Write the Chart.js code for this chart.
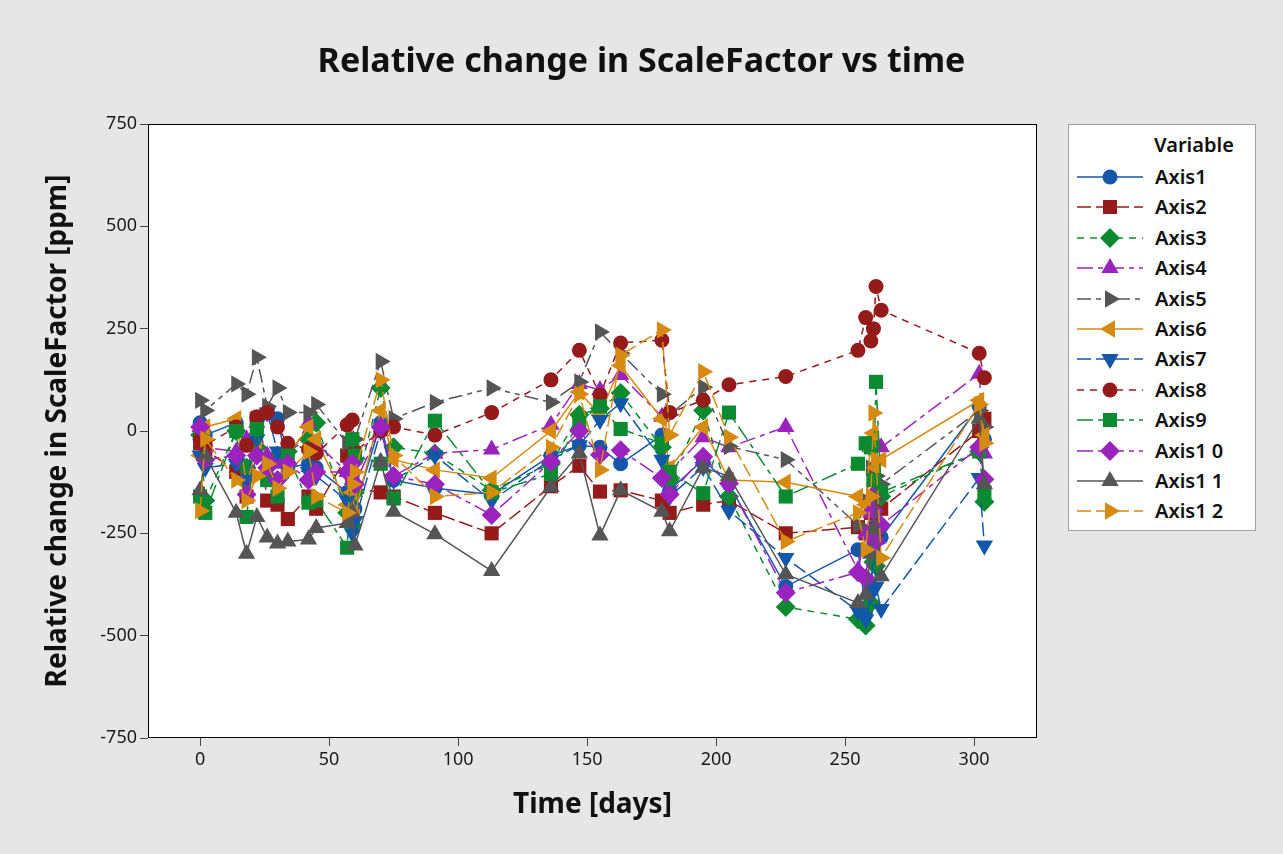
<!DOCTYPE html>
<html>
<head>
<meta charset="utf-8">
<script src="https://cdn.jsdelivr.net/npm/chart.js@4.4.1/dist/chart.umd.min.js"></script>
<style>
  html, body { margin: 0; padding: 0; background: #e6e6e6; }
  #wrap { position: relative; width: 1283px; height: 854px; overflow: hidden; }
  #chart { position: absolute; left: 0; top: 0; }
  #legend {
    position: absolute; left: 1068px; top: 124px; width: 186px; height: 405px;
    background: #fff; border: 1px solid #a0a0a0;
    font-family: 'Noto Sans', sans-serif; color: #111;
  }
  #legend .head { position: absolute; left: 85px; top: 6px; font-size: 20px; font-weight: 600; }
  #legend .row { position: absolute; left: 0; width: 186px; height: 30px; }
  #legend .row svg { position: absolute; left: 0; top: 0; }
  #legend .row span { position: absolute; left: 86px; top: 0px; line-height: 30px; font-size: 20px; font-weight: 600; }
</style>
</head>
<body>
<div id="wrap">
  <canvas id="chart" width="1283" height="854"></canvas>
  <div id="legend"><div class="head">Variable</div></div>
</div>
<script>
// time in days, shared by every series
const days = [0, 2, 14, 18, 22, 26, 30, 34, 42, 45, 57, 59, 60, 70, 75, 91, 113, 136, 147, 155,
  163, 179, 182, 195, 205, 227, 255, 258, 260, 261, 262, 264, 302, 304];

// relative change in ppm
const axis1 = [20, -10, 20, -110, 30, 45, 30, -90, -80, -90, -150, -160, -190, 20, -120, -140, -155, -60, -35, -40,
  -80, -10, -145, -70, -130, -380, -290, -440, -380, -300, -230, -260, 60, -20];
const axis2 = [-30, -45, -100, -160, 30, -170, -180, -215, -160, -190, -60, -110, -140, -150, -160, -200, -250, -135, -85, -148,
  -145, -170, -200, -180, -170, -250, -235, -250, -200, -180, -240, -190, 0, 30];
const axis3 = [-10, -170, 0, -90, -40, -110, -60, -50, -20, 20, -200, -230, -150, 105, -40, -55, -145, -80, 40, 55,
  93, -40, -120, 50, -160, -430, -460, -475, -420, -320, -330, -160, -50, -173];
const axis4 = [10, -40, -50, -20, 20, -60, -80, -70, 20, -30, -100, -120, -60, 0, -110, -55, -45, 15, 115, 100,
  137, 35, -100, -15, -40, 10, -340, -250, -200, -150, -30, -40, 140, -55];
const axis5 = [75, 50, 115, 90, 180, 60, 105, 45, 45, 65, -30, -100, -20, 170, 30, 70, 105, 70, 120, 242,
  190, 90, 40, 107, -38, -70, -230, -170, -90, -40, -110, -130, 50, 10];
const axis6 = [-60, 10, 30, -130, -40, -100, -120, -60, 10, -20, -180, -150, -200, 50, -70, -95, -115, 0, 95, 40,
  160, 30, -90, 10, -120, -125, -160, -180, -20, -5, -90, -70, 75, -10];
const axis7 = [-60, -90, -80, -120, -20, 45, -50, -95, -100, -110, -170, -250, -220, 0, -120, -60, -170, -70, -35, 27,
  68, -70, -160, -88, -195, -310, -440, -460, -400, -280, -380, -435, -115, -280];
const axis8 = [-20, -35, 10, -35, 35, 45, 10, -30, -45, -55, 15, 27, -50, 0, 10, -10, 45, 125, 197, 88,
  215, 222, 45, 75, 113, 133, 197, 277, 220, 250, 353, 295, 190, 130];
const axis9 = [-160, -200, 0, -210, 5, -120, -160, -60, -175, -170, -285, -20, -60, -80, -165, 25, -150, -105, 25, 60,
  5, -30, -100, -152, 45, -160, -80, -30, -40, -120, 120, -150, -50, -150];
const axis10 = [10, -70, -60, -155, -60, -90, -120, -80, -120, -100, -100, -80, -130, 10, -110, -130, -205, -75, 0, -58,
  -47, -115, -155, -63, -128, -395, -345, -360, -250, -195, -270, -230, -40, -118];
const axis11 = [-145, -60, -200, -300, -210, -260, -275, -270, -265, -237, -225, -200, -280, -75, -197, -252, -342, -137, -55, -255,
  -145, -197, -245, -90, -110, -350, -420, -400, -300, -240, -160, -355, 30, -130];
const axis12 = [-195, -20, -120, -170, -110, -80, -140, -100, -50, -160, -200, -130, -100, 125, -60, -160, -150, -40, 90, -95,
  185, 247, -10, 145, -15, -270, -200, -290, -160, 44, -70, -310, 65, -30];

const seriesNames = ['Axis1', 'Axis2', 'Axis3', 'Axis4', 'Axis5', 'Axis6',
  'Axis7', 'Axis8', 'Axis9', 'Axis1 0', 'Axis1 1', 'Axis1 2'];
const seriesValues = [axis1, axis2, axis3, axis4, axis5, axis6,
  axis7, axis8, axis9, axis10, axis11, axis12];
const yTicks = [-750, -500, -250, 0, 250, 500, 750];

// Minitab-like look
const BLUE = '#1257a8', RED = '#951b1b', GREEN = '#0b8a32',
  PURPLE = '#9b23bd', GRAY = '#555555', ORANGE = '#d68a10';
const SOLID = [], LONG = [14, 5], DASH = [7, 6], LONGSHORT = [16, 5, 5, 5], DASHDASH = [14, 5, 5, 5, 5, 5];
const STYLES = [
  { color: BLUE, dash: SOLID, point: 'circle', rot: 0 },
  { color: RED, dash: LONG, point: 'rect', rot: 0 },
  { color: GREEN, dash: DASH, point: 'rectRot', rot: 0 },
  { color: PURPLE, dash: LONGSHORT, point: 'triangle', rot: 0 },
  { color: GRAY, dash: DASHDASH, point: 'triangle', rot: 90 },
  { color: ORANGE, dash: SOLID, point: 'triangle', rot: -90 },
  { color: BLUE, dash: LONG, point: 'triangle', rot: 180 },
  { color: RED, dash: DASH, point: 'circle', rot: 0 },
  { color: GREEN, dash: LONGSHORT, point: 'rect', rot: 0 },
  { color: PURPLE, dash: LONGSHORT, point: 'rectRot', rot: 0 },
  { color: GRAY, dash: SOLID, point: 'triangle', rot: 0 },
  { color: ORANGE, dash: LONG, point: 'triangle', rot: 90 },
];
const POINT_RADIUS = { circle: 7.5, rect: 10, rectRot: 10, triangle: 10 };
const FONT = "'Noto Sans', sans-serif";

const datasets = seriesValues.map(function (vals, i) {
  var st = STYLES[i];
  return {
    label: seriesNames[i],
    data: days.map(function (d, k) { return { x: d, y: vals[k] }; }),
    borderColor: st.color,
    backgroundColor: st.color,
    borderWidth: 1.5,
    borderDash: st.dash,
    pointStyle: st.point,
    pointRotation: st.rot,
    pointRadius: POINT_RADIUS[st.point],
    pointBackgroundColor: st.color,
    pointBorderColor: st.color,
    pointBorderWidth: 0,
    tension: 0,
    order: STYLES.length - i,
  };
});

const framePlugin = {
  id: 'frame',
  beforeDraw: function (chart) {
    var a = chart.chartArea, ctx = chart.ctx;
    ctx.save();
    ctx.fillStyle = '#ffffff';
    ctx.fillRect(a.left, a.top, a.right - a.left, a.bottom - a.top);
    ctx.restore();
  },
  afterDraw: function (chart) {
    var a = chart.chartArea, ctx = chart.ctx;
    ctx.save();
    ctx.strokeStyle = '#000';
    ctx.lineWidth = 1;
    ctx.strokeRect(Math.round(a.left) + 0.5, Math.round(a.top) + 0.5,
      Math.round(a.right - a.left) - 1, Math.round(a.bottom - a.top) - 1);
    ctx.restore();
  },
};

new Chart(document.getElementById('chart'), {
  type: 'line',
  data: { datasets: datasets },
  plugins: [framePlugin],
  options: {
    responsive: false,
    animation: false,
    layout: { padding: 0 },
    plugins: {
      legend: { display: false },
      tooltip: { enabled: false },
      title: {
        display: true,
        text: 'Relative change in ScaleFactor vs time',
        color: '#111',
        font: { family: FONT, size: 34, weight: 'bold' },
        padding: { top: 42, bottom: 41.2 },
      },
    },
    scales: {
      x: {
        type: 'linear', min: -20.2, max: 324.4,
        afterFit: function (s) { s.height = 116; },
        ticks: { stepSize: 50, includeBounds: false, autoSkip: false, maxRotation: 0, padding: 3,
          color: '#1a1a1a', font: { family: FONT, size: 18 } },
        grid: { drawOnChartArea: false, drawTicks: true, tickLength: 8, tickColor: '#444' },
        border: { display: false },
        title: { display: true, text: 'Time [days]', color: '#111',
          font: { family: FONT, size: 28, weight: 'bold' }, padding: { top: 0, bottom: 32.2 } },
      },
      y: {
        type: 'linear', min: -750, max: 750, position: 'left',
        afterFit: function (s) { s.width = 148; },
        afterBuildTicks: function (s) { s.ticks = yTicks.map(function (v) { return { value: v }; }); },
        ticks: { autoSkip: false, padding: 3, color: '#1a1a1a', font: { family: FONT, size: 18 } },
        grid: { drawOnChartArea: false, drawTicks: true, tickLength: 8, tickColor: '#444' },
        border: { display: false },
        title: { display: true, text: 'Relative change in ScaleFactor [ppm]', color: '#111',
          font: { family: FONT, size: 28, weight: 'bold' }, padding: { top: 41.2, bottom: 0 } },
      },
      // empty right-hand box that keeps room for the legend
      side: {
        type: 'linear', position: 'right', display: true,
        afterFit: function (s) { s.width = 246; },
        ticks: { display: false },
        grid: { display: false },
        border: { display: false },
      },
    },
  },
});

// legend: line sample with marker, then the name
function markerSvg(st, cx, cy) {
  var c = st.color;
  if (st.point === 'circle') return '<circle cx="' + cx + '" cy="' + cy + '" r="7.5" fill="' + c + '"/>';
  if (st.point === 'rect') return '<rect x="' + (cx - 7) + '" y="' + (cy - 7) + '" width="14" height="14" fill="' + c + '"/>';
  if (st.point === 'rectRot') {
    return '<polygon points="' + cx + ',' + (cy - 10) + ' ' + (cx + 10) + ',' + cy + ' ' +
      cx + ',' + (cy + 10) + ' ' + (cx - 10) + ',' + cy + '" fill="' + c + '"/>';
  }
  var pts = [];
  for (var k = 0; k < 3; k++) {
    var a = (st.rot + k * 120) * Math.PI / 180;
    pts.push((cx + Math.sin(a) * 10).toFixed(2) + ',' + (cy - Math.cos(a) * 10).toFixed(2));
  }
  return '<polygon points="' + pts.join(' ') + '" fill="' + c + '"/>';
}

var legend = document.getElementById('legend');
seriesNames.forEach(function (name, i) {
  var st = STYLES[i];
  var row = document.createElement('div');
  row.className = 'row';
  row.style.top = (37 + i * 30.4) + 'px';
  row.innerHTML =
    '<svg width="80" height="30" viewBox="0 0 80 30">' +
    '<line x1="8" y1="15" x2="74" y2="15" stroke="' + st.color + '" stroke-width="1.5"' +
    (st.dash.length ? ' stroke-dasharray="' + st.dash.join(',') + '"' : '') + '/>' +
    markerSvg(st, 41, 15) + '</svg><span>' + name + '</span>';
  legend.appendChild(row);
});
</script>
</body>
</html>
